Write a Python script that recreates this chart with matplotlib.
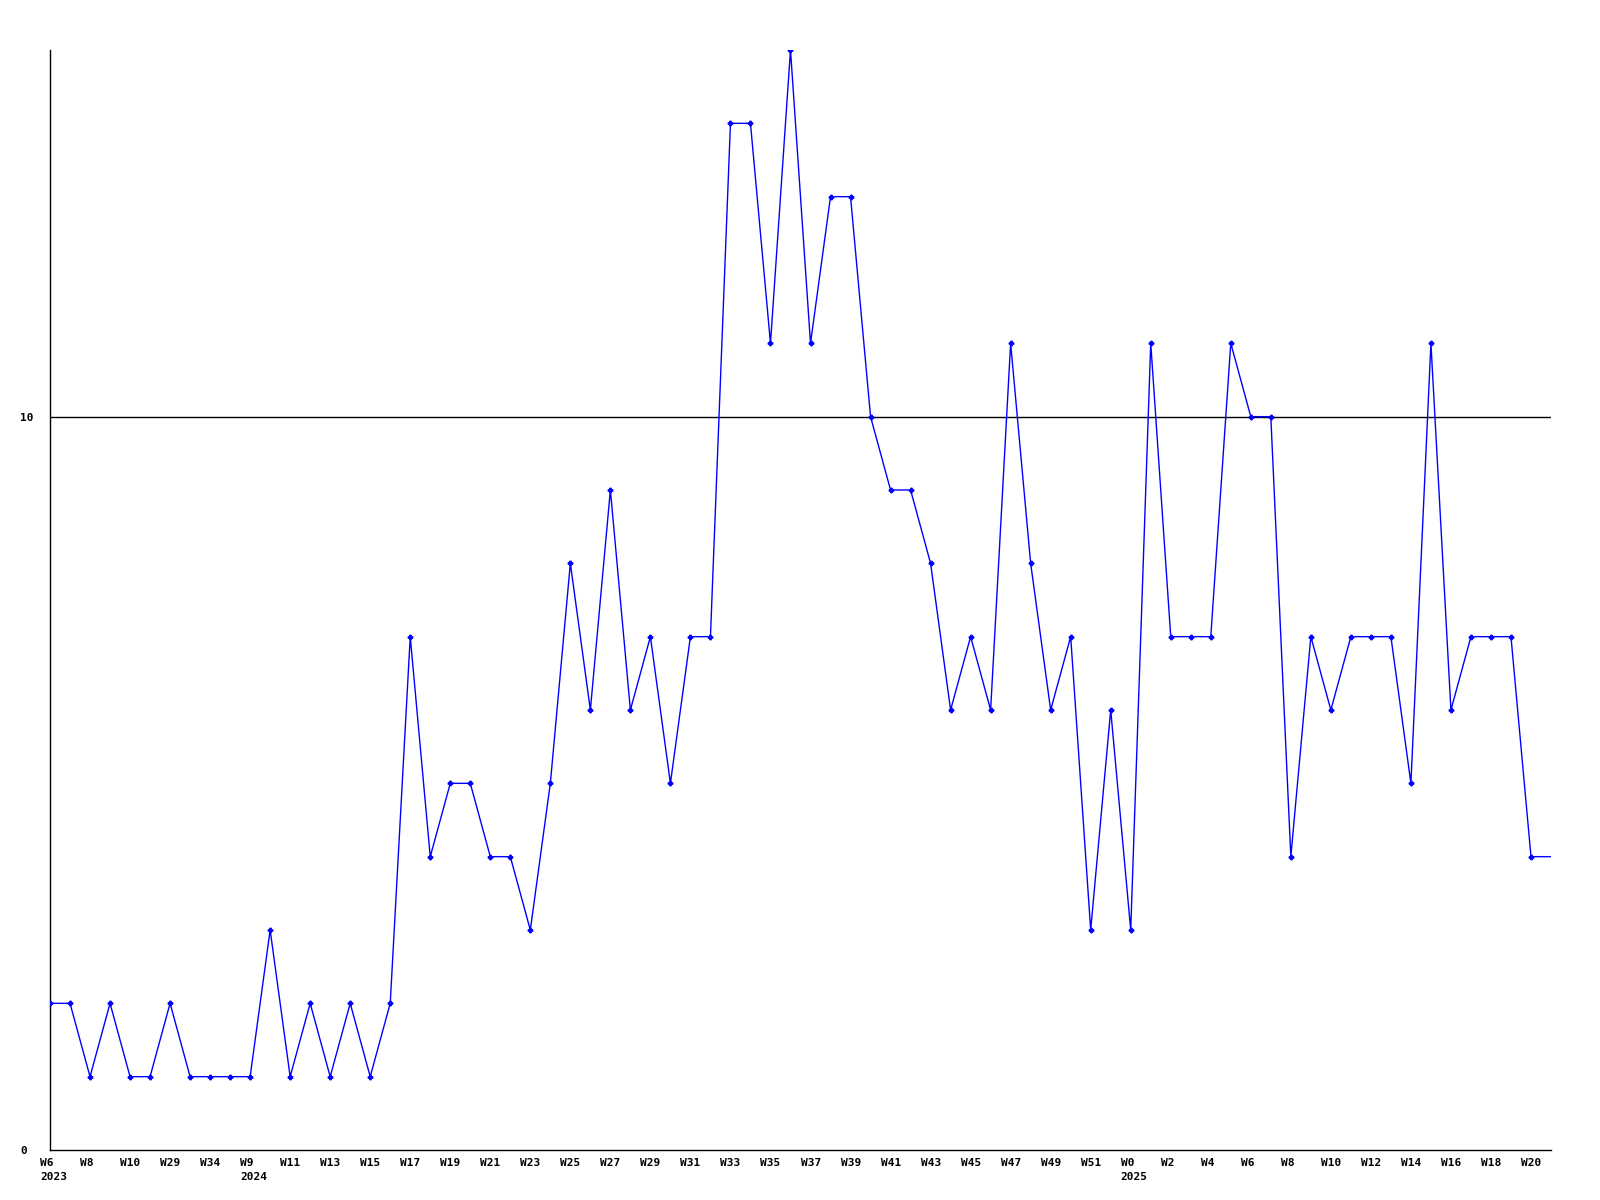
import numpy as np
import matplotlib
matplotlib.use('Agg')
import matplotlib.pyplot as plot
import matplotlib.transforms as mtrans

# week labels (hidden in-between ones are guesses)
weeks = ['W6', 'W7', 'W8', 'W9', 'W10', 'W27', 'W29', 'W33', 'W34', 'W48',
         'W9', 'W10', 'W11', 'W12', 'W13', 'W14', 'W15', 'W16', 'W17', 'W18',
         'W19', 'W20', 'W21', 'W22', 'W23', 'W24', 'W25', 'W26', 'W27', 'W28',
         'W29', 'W30', 'W31', 'W32', 'W33', 'W34', 'W35', 'W36', 'W37', 'W38',
         'W39', 'W40', 'W41', 'W42', 'W43', 'W44', 'W45', 'W46', 'W47', 'W48',
         'W49', 'W50', 'W51', 'W52', 'W0', 'W1', 'W2', 'W3', 'W4', 'W5',
         'W6', 'W7', 'W8', 'W9', 'W10', 'W11', 'W12', 'W13', 'W14', 'W15',
         'W16', 'W17', 'W18', 'W19', 'W20', 'W21']
years = {0: '2023', 10: '2024', 54: '2025'}
values = [2, 2, 1, 2, 1, 1, 2, 1, 1, 1,
          1, 3, 1, 2, 1, 2, 1, 2, 7, 4,
          5, 5, 4, 4, 3, 5, 8, 6, 9, 6,
          7, 5, 7, 7, 14, 14, 11, 15, 11, 13,
          13, 10, 9, 9, 8, 6, 7, 6, 11, 8,
          6, 7, 3, 6, 3, 11, 7, 7, 7, 11,
          10, 10, 4, 7, 6, 7, 7, 7, 5, 11,
          6, 7, 7, 7, 4, 4]

x = np.arange(len(values))

fig = plot.figure(figsize=(16, 12), dpi=100)
ax = fig.add_axes([50 / 1600., 1 - 1150 / 1200., 1501 / 1600., 1100 / 1200.])

ax.axhline(10, color='black', linewidth=1, zorder=1)
ax.plot(x, values, color='#0000ff', linewidth=1, marker='P', markersize=3.2,
        markevery=list(range(len(values) - 1)), zorder=3)

ax.set_xlim(0, len(values) - 1)
ax.set_ylim(0, 15)
for s in ['top', 'right']:
    ax.spines[s].set_visible(False)
for s in ['left', 'bottom']:
    ax.spines[s].set_linewidth(1)

font = dict(family='DejaVu Sans Mono', weight='bold', size=8)

ticks = list(range(0, len(values) - 1, 2))
labels = []
for i in ticks:
    lab = weeks[i]
    if i in years:
        lab = lab + '\n' + years[i]
    labels.append(lab)
ax.set_xticks(ticks)
ax.set_xticklabels(labels, ha='left', multialignment='left', linespacing=1.4, **font)
ax.tick_params(axis='x', length=0, pad=6)
off = mtrans.ScaledTranslation(-10 / 100., 0, fig.dpi_scale_trans)
for t in ax.get_xticklabels():
    t.set_transform(t.get_transform() + off)

ax.set_yticks([0, 10])
ax.set_yticklabels(['0', '10'], ha='left', **font)
ax.tick_params(axis='y', length=0, pad=21.6)

plot.savefig('out.png', dpi=100)
plot.close()
